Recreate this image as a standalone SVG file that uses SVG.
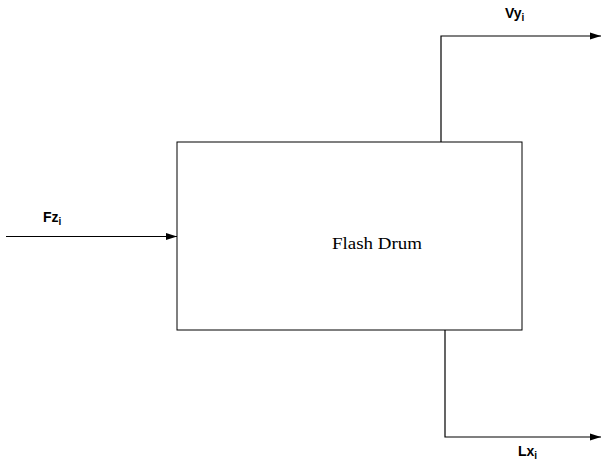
<svg xmlns="http://www.w3.org/2000/svg" width="602" height="463" viewBox="0 0 602 463">
<style>
.ln{fill:none;stroke:#000;stroke-width:1.2}
.lbl{font-family:"Liberation Sans",Arial,sans-serif;font-weight:bold;font-size:14px;fill:#000}
.sub{font-size:10px}
.nm{font-family:"Liberation Serif","Times New Roman",serif;font-size:17px;fill:#000}
</style>
<defs>
<marker id="ah" markerWidth="11" markerHeight="8" refX="11" refY="4" orient="auto" markerUnits="userSpaceOnUse">
<path d="M0,0.5 L11,4 L0,7.5 Z" fill="#000"/>
</marker>
</defs>
<rect width="602" height="463" fill="#fff"/>
<g id="drum">
<rect x="177" y="142" width="345" height="188" fill="none" stroke="#000" stroke-width="1"/>
<text class="nm" x="332" y="249" textLength="90" lengthAdjust="spacingAndGlyphs">Flash Drum</text>
</g>
<g id="connectors">
<path class="ln" d="M6,236.5 H177" marker-end="url(#ah)"/>
<path class="ln" d="M441,142 V36 H601" marker-end="url(#ah)"/>
<path class="ln" d="M445,330 V437 H601" marker-end="url(#ah)"/>
</g>
<g id="labels">
<text class="lbl" x="505" y="18">Vy<tspan class="sub" dy="3">i</tspan></text>
<text class="lbl" x="43" y="222">Fz<tspan class="sub" dy="3">i</tspan></text>
<text class="lbl" x="518" y="456">Lx<tspan class="sub" dy="3">i</tspan></text>
</g>
</svg>
